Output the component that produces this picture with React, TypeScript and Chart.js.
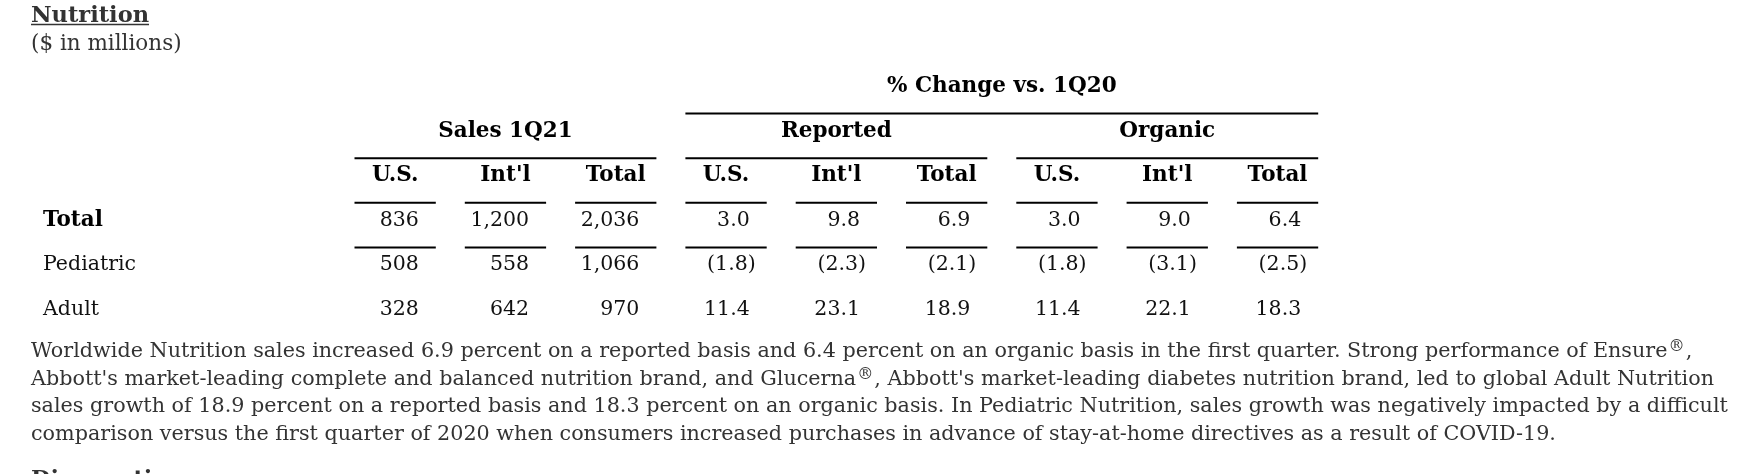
import React, { useEffect, useRef } from 'react';
import { Chart, registerables } from 'chart.js';

Chart.register(...registerables);

// ---------- data ----------
const TITLE = 'Nutrition';
const SUBTITLE = '($ in millions)';
const SUPER_GROUP = '% Change vs. 1Q20';
const GROUPS = ['Sales 1Q21', 'Reported', 'Organic'];
const COLUMN_HEADS = ['U.S.', "Int'l", 'Total'];
const ROW_LABELS = ['Total', 'Pediatric', 'Adult'];
const TOTAL_VALUES = [836, 1200, 2036, 3.0, 9.8, 6.9, 3.0, 9.0, 6.4];
const PEDIATRIC_VALUES = [508, 558, 1066, -1.8, -2.3, -2.1, -1.8, -3.1, -2.5];
const ADULT_VALUES = [328, 642, 970, 11.4, 23.1, 18.9, 11.4, 22.1, 18.3];
const PARAGRAPH_LINES = [
  'Worldwide Nutrition sales increased 6.9 percent on a reported basis and 6.4 percent on an organic basis in the first quarter. Strong performance of Ensure®,',
  "Abbott's market-leading complete and balanced nutrition brand, and Glucerna®, Abbott's market-leading diabetes nutrition brand, led to global Adult Nutrition",
  'sales growth of 18.9 percent on a reported basis and 18.3 percent on an organic basis. In Pediatric Nutrition, sales growth was negatively impacted by a difficult',
  'comparison versus the first quarter of 2020 when consumers increased purchases in advance of stay-at-home directives as a result of COVID-19.',
];
const NEXT_HEADING = 'Diagnostics';

const X_LABELS = GROUPS.flatMap((g) => COLUMN_HEADS.map((c) => `${g} / ${c}`));
const HEADER_ROWS = ['super', 'group', 'column'];
const Y_LABELS = [...HEADER_ROWS, ...ROW_LABELS];
const ROW_VALUES = [TOTAL_VALUES, PEDIATRIC_VALUES, ADULT_VALUES];

const FONT = '"DejaVu Serif", "Liberation Serif", serif';
const SIZE = 20.5;
const BOLD_SIZE = 21.5;

function formatCell(v: number, col: number): string {
  const abs = Math.abs(v);
  const s = col < 3 ? String(Math.round(abs)).replace(/\B(?=(\d{3})+(?!\d))/g, ',') : abs.toFixed(1);
  return v < 0 ? `(${s})` : s;
}

function richWidth(ctx: CanvasRenderingContext2D, line: string): number {
  const parts = line.split('®');
  let w = 0;
  parts.forEach((p, k) => {
    ctx.font = `${SIZE}px ${FONT}`;
    w += ctx.measureText(p).width;
    if (k < parts.length - 1) {
      ctx.font = `16px ${FONT}`;
      w += ctx.measureText('®').width + 2;
    }
  });
  return w;
}

function drawRich(ctx: CanvasRenderingContext2D, line: string, x: number, y: number, sx: number) {
  ctx.save();
  ctx.translate(x, y);
  ctx.scale(sx, 1);
  let cx = 0;
  const parts = line.split('®');
  parts.forEach((p, k) => {
    ctx.font = `${SIZE}px ${FONT}`;
    ctx.fillText(p, cx, 0);
    cx += ctx.measureText(p).width;
    if (k < parts.length - 1) {
      ctx.font = `16px ${FONT}`;
      ctx.fillText('®', cx + 1, -6);
      cx += ctx.measureText('®').width + 2;
    }
  });
  ctx.restore();
}

const tablePlugin = {
  id: 'tableText',
  afterDraw(chart: any) {
    const ctx: CanvasRenderingContext2D = chart.ctx;
    const xs = chart.scales.x;
    const ys = chart.scales.y;
    const band = xs.getPixelForValue(1) - xs.getPixelForValue(0);
    const half = (band - 29) / 2;
    const base = (r: number) => ys.getPixelForValue(r) + 7;
    const segL = (i: number) => xs.getPixelForValue(i) - half;
    const segR = (i: number) => xs.getPixelForValue(i) + half;
    const hline = (x1: number, x2: number, y: number) => {
      ctx.beginPath();
      ctx.moveTo(x1, y);
      ctx.lineTo(x2, y);
      ctx.stroke();
    };

    ctx.save();
    ctx.textBaseline = 'alphabetic';

    // title + subtitle
    ctx.fillStyle = '#333';
    ctx.strokeStyle = '#333';
    ctx.textAlign = 'left';
    ctx.font = `bold 22.5px ${FONT}`;
    ctx.fillText(TITLE, 31, 22);
    const tw = ctx.measureText(TITLE).width;
    ctx.lineWidth = 1.5;
    hline(31, 31 + tw, 24.5);
    ctx.font = `21.5px ${FONT}`;
    ctx.fillText(SUBTITLE, 31, 50);

    // table headers
    ctx.fillStyle = '#000';
    ctx.strokeStyle = '#000';
    ctx.lineWidth = 2;
    ctx.textAlign = 'center';
    ctx.font = `bold ${BOLD_SIZE}px ${FONT}`;
    ctx.fillText(SUPER_GROUP, (segL(3) + segR(8)) / 2, base(0));
    hline(segL(3), segR(8), base(1) - 23);
    GROUPS.forEach((g, gi) => {
      const a = segL(gi * 3);
      const b = segR(gi * 3 + 2);
      ctx.fillText(g, (a + b) / 2, base(1));
      hline(a, b, base(2) - 23);
    });
    X_LABELS.forEach((_, i) => {
      ctx.fillText(COLUMN_HEADS[i % 3], xs.getPixelForValue(i), base(2));
      hline(segL(i), segR(i), base(3) - 23);
      hline(segL(i), segR(i), base(4) - 23);
    });

    // row labels
    ctx.textAlign = 'left';
    ROW_LABELS.forEach((r, ri) => {
      ctx.font = ri === 0 ? `bold ${BOLD_SIZE}px ${FONT}` : `${SIZE}px ${FONT}`;
      ctx.fillStyle = ri === 0 ? '#000' : '#111';
      ctx.fillText(r, 43, base(3 + ri));
    });

    // cell values from dataset points
    ctx.font = `${SIZE}px ${FONT}`;
    ctx.textAlign = 'right';
    ctx.fillStyle = '#111';
    const parenW = ctx.measureText(')').width;
    chart.data.datasets.forEach((ds: any, di: number) => {
      const meta = chart.getDatasetMeta(di);
      meta.data.forEach((pt: any, i: number) => {
        const v = ds.data[i].v;
        const xr = pt.x + half - 17 + (v < 0 ? parenW * 0.75 : 0);
        ctx.fillText(formatCell(v, i), xr, pt.y + 7);
      });
    });

    // paragraph
    ctx.fillStyle = '#333';
    ctx.textAlign = 'left';
    const w2 = richWidth(ctx, PARAGRAPH_LINES[1]);
    const sx = 1683 / w2;
    PARAGRAPH_LINES.forEach((line, li) => {
      drawRich(ctx, line, 31, 357 + li * 27.7, sx);
    });

    // next section heading (cut off)
    ctx.font = `bold 22.5px ${FONT}`;
    ctx.fillStyle = '#333';
    ctx.fillText(NEXT_HEADING, 31, 486);
    ctx.restore();
  },
};

export default function App() {
  const ref = useRef<HTMLCanvasElement | null>(null);
  useEffect(() => {
    document.body.style.margin = '0';
    document.body.style.background = '#fff';
    const canvas = ref.current;
    if (!canvas) return;
    const chart = new Chart(canvas, {
      type: 'line',
      data: {
        labels: X_LABELS,
        datasets: ROW_LABELS.map((r, ri) => ({
          label: r,
          data: ROW_VALUES[ri].map((v, i) => ({ x: X_LABELS[i], y: r, v })) as any,
          showLine: false,
          pointRadius: 0,
          pointHoverRadius: 0,
        })),
      },
      options: {
        responsive: false,
        animation: false,
        devicePixelRatio: 1,
        events: [],
        layout: { padding: { left: 340, right: 412.3, top: 62.7, bottom: 143.7 } },
        plugins: {
          legend: { display: false },
          tooltip: { enabled: false },
          title: { display: false },
        },
        scales: {
          x: { type: 'category', labels: X_LABELS, offset: true, display: false },
          y: { type: 'category', labels: Y_LABELS, offset: true, display: false },
        },
      },
      plugins: [tablePlugin],
    });
    return () => chart.destroy();
  }, []);
  return <canvas ref={ref} width={1745} height={474} style={{ display: 'block' }} />;
}
